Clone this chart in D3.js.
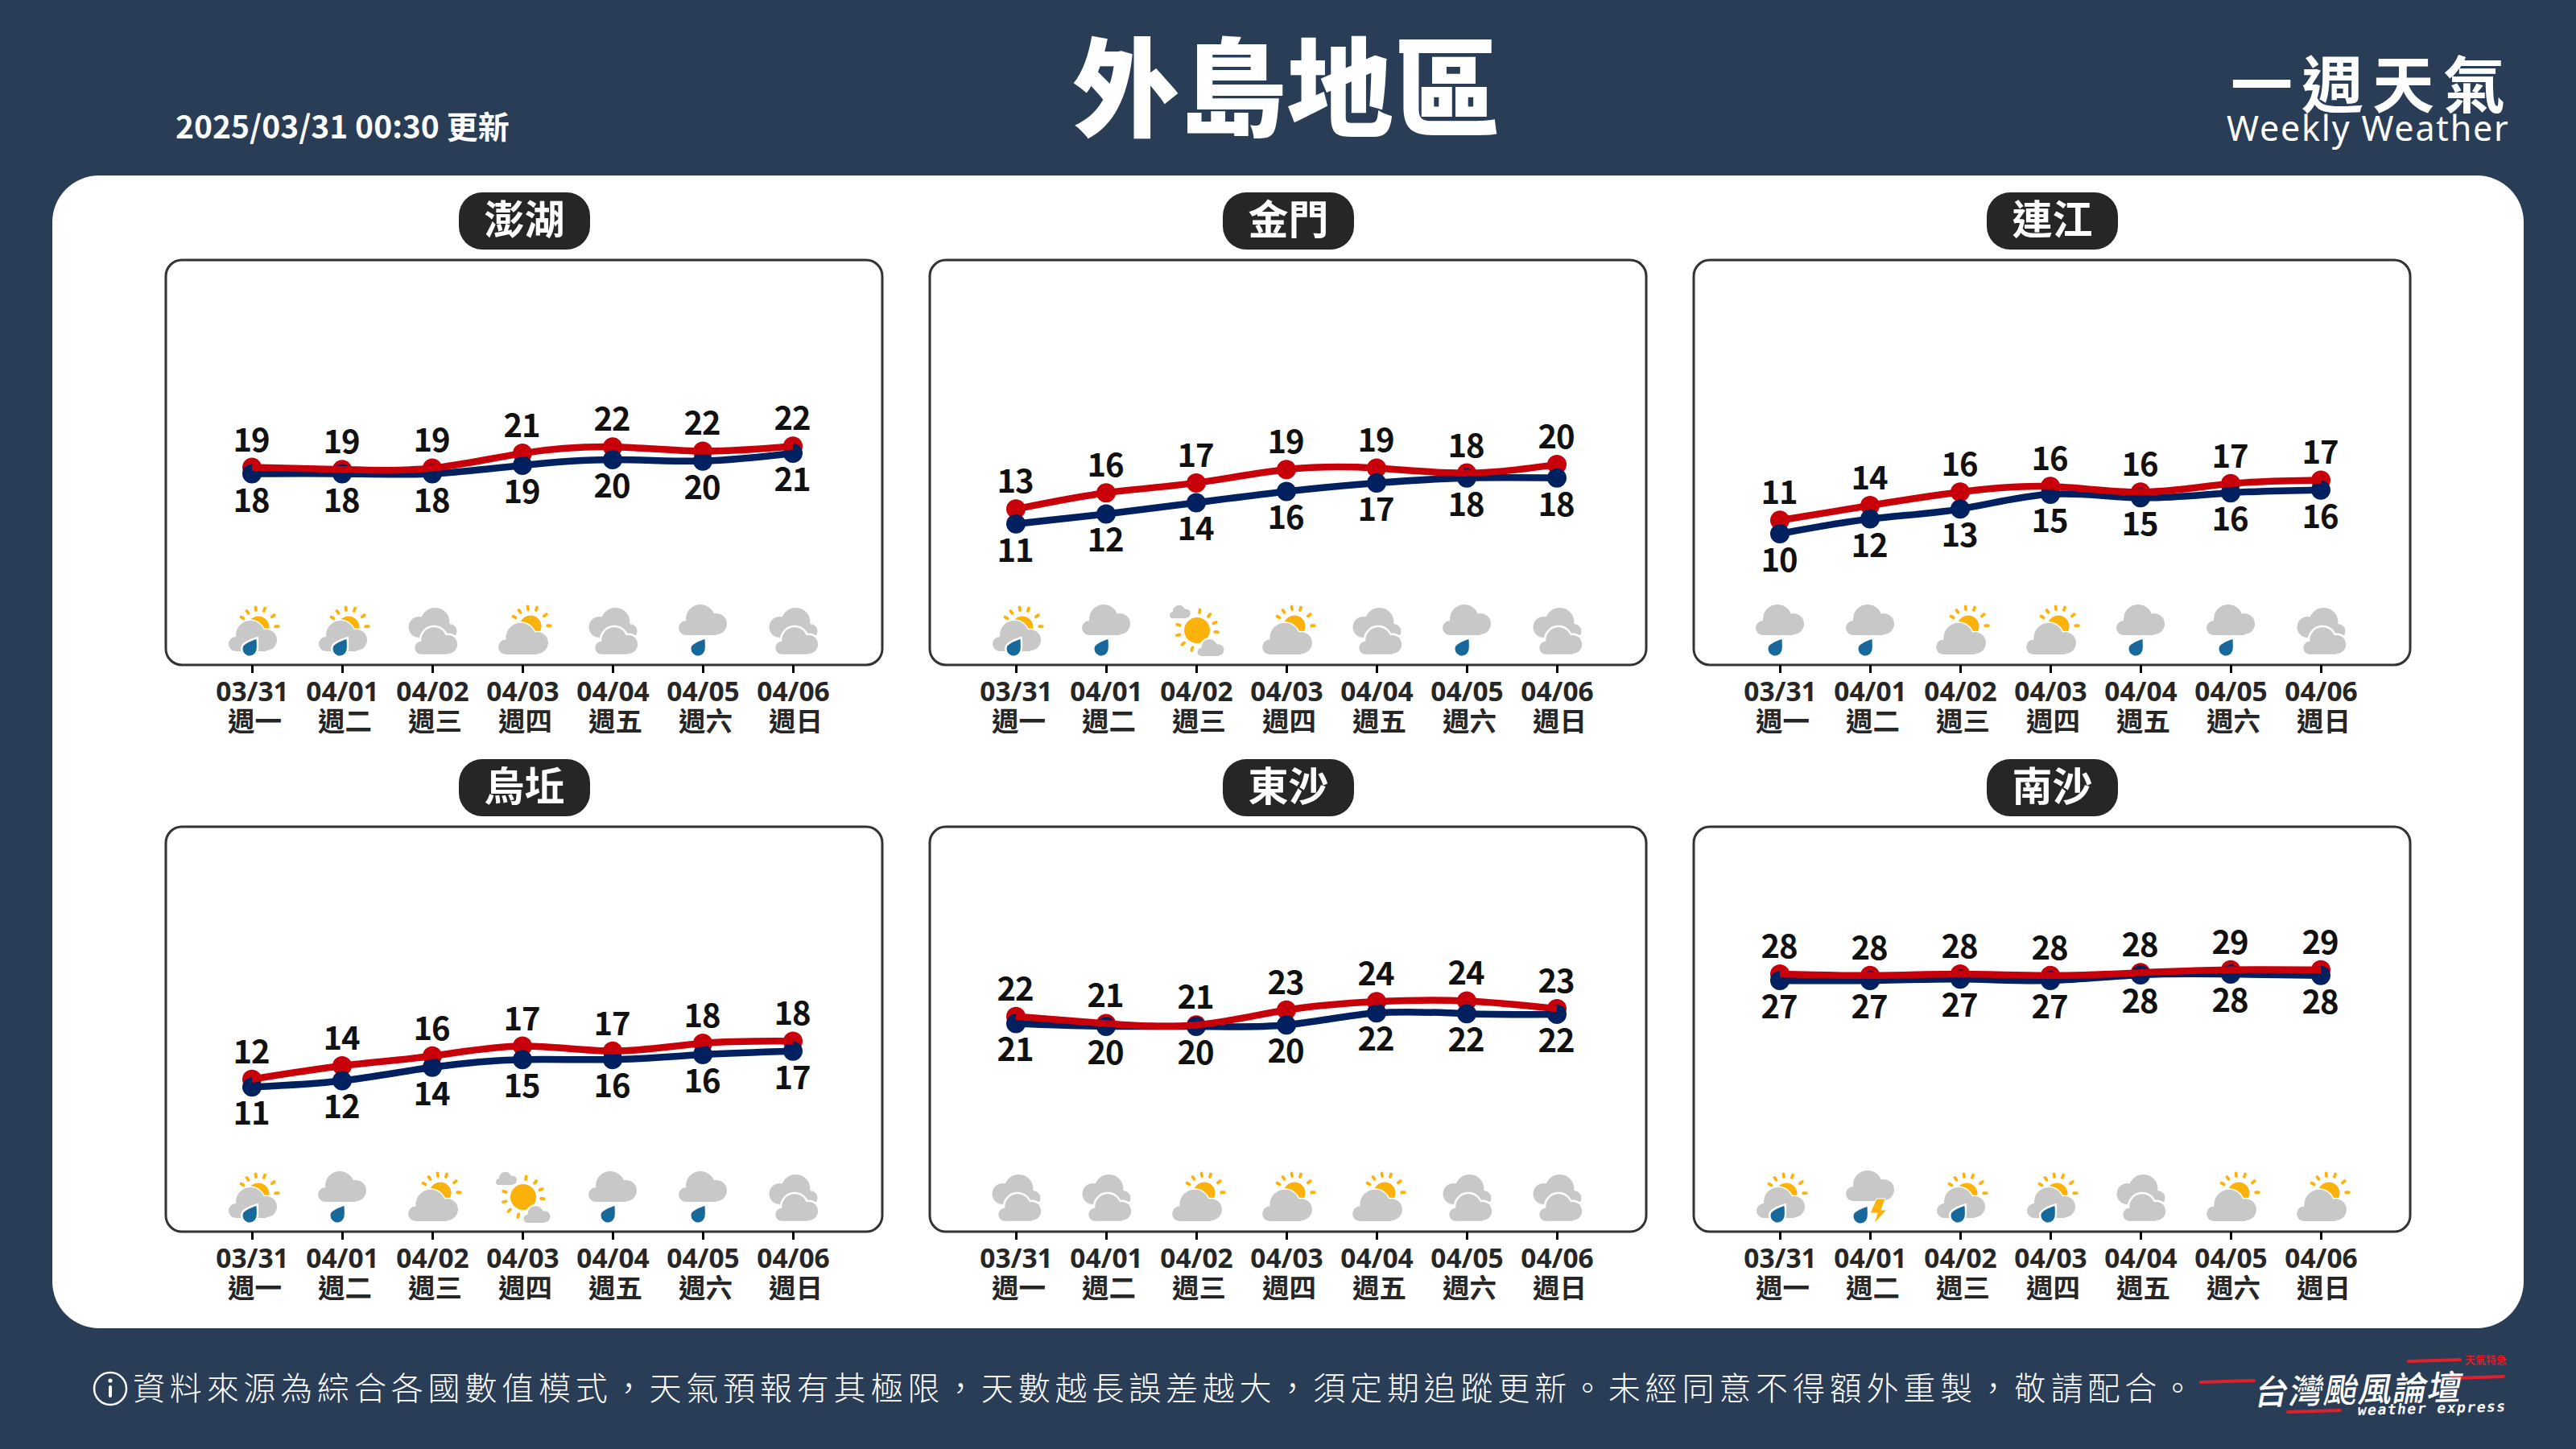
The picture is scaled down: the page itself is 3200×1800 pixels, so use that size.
<!DOCTYPE html>
<html><head><meta charset="utf-8">
<script src="https://cdn.jsdelivr.net/npm/d3@7"></script>
<style>html,body{margin:0;padding:0;background:#2a3d57}svg{display:block}text{font-family:"Noto Sans CJK TC","Noto Sans",sans-serif}</style>
</head><body><svg id="c" width="3200" height="1800" viewBox="0 0 3200 1800"></svg>
<script>
const dates=["03/31","04/01","04/02","04/03","04/04","04/05","04/06"];
const weekdays=["週一","週二","週三","週四","週五","週六","週日"];
const stations=["澎湖","金門","連江","烏坵","東沙","南沙"];
// smoothed series
const highs=[
 [19.4,19.1,19.3,21.4,22.3,21.7,22.4],
 [13.5,15.8,17.2,19.1,19.3,18.6,19.8],
 [11.9,14.0,15.9,16.7,15.9,17.1,17.6],
 [13.0,14.9,16.3,17.7,17.0,18.1,18.4],
 [21.9,20.9,20.7,22.8,24.0,24.1,23.0],
 [27.9,27.7,27.9,27.7,28.1,28.5,28.5]];
const lows=[
 [18.5,18.5,18.5,19.7,20.5,20.3,21.4],
 [11.4,12.8,14.4,16.0,17.2,17.9,17.9],
 [10.0,12.1,13.5,15.6,15.1,15.8,16.2],
 [11.9,12.8,14.7,15.8,15.8,16.5,17.0],
 [20.9,20.5,20.5,20.7,22.4,22.3,22.2],
 [27.0,27.0,27.2,27.0,27.8,27.9,27.7]];
// printed labels
const highLabels=[[19,19,19,21,22,22,22],[13,16,17,19,19,18,20],[11,14,16,16,16,17,17],[12,14,16,17,17,18,18],[22,21,21,23,24,24,23],[28,28,28,28,28,29,29]];
const lowLabels=[[18,18,18,19,20,20,21],[11,12,14,16,17,18,18],[10,12,13,15,15,16,16],[11,12,14,15,16,16,17],[21,20,20,20,22,22,22],[27,27,27,27,28,28,28]];
// PR partly cloudy+rain, R cloud+rain, O overcast, P partly cloudy, S mostly sunny, T thunder
const icons=[["PR","PR","O","P","O","R","O"],["PR","R","S","P","O","R","O"],["R","R","P","P","R","R","O"],["PR","R","P","S","R","R","O"],["O","O","P","P","P","O","O"],["PR","T","PR","PR","O","P","P"]];
const noteText="資料來源為綜合各國數值模式，天氣預報有其極限，天數越長誤差越大，須定期追蹤更新。未經同意不得額外重製，敬請配合。";

const BG="#2a3d57",RED="#c8000a",NAVY="#002060",GREY="#c8c8c8",SUN="#fbb30b",DROP="#17699c",DARK="#262626";
const svg=d3.select("#c");
svg.append("rect").attr("width",3200).attr("height",1800).attr("fill",BG);
svg.append("rect").attr("x",65).attr("y",218).attr("width",3070).attr("height",1432).attr("rx",58).attr("fill","#fff");

const txt=(s,x,y,fs,fw,o={})=>{const t=svg.append("text").attr("x",x).attr("y",y).attr("font-size",fs).attr("font-weight",fw).attr("fill",o.fill||"#fff").attr("text-anchor",o.anchor||"start").text(s);
 if(o.ls)t.attr("letter-spacing",o.ls); if(o.tf)t.attr("transform",o.tf); if(o.family)t.style("font-family",o.family); return t;};
txt("外島地區",1598,159,133,900,{anchor:"middle"});
txt("2025/03/31 00:30 更新",218,172,39,700);
txt("一週天氣",2771,134,77,700,{ls:11});
txt("Weekly Weather",2766,175,43,400,{ls:1.8,family:"'Noto Sans'"});
svg.append("circle").attr("cx",137).attr("cy",1725).attr("r",20).attr("fill","none").attr("stroke","#fff").attr("stroke-width",2.5);
svg.append("circle").attr("cx",137).attr("cy",1715).attr("r",2.6).attr("fill","#fff");
svg.append("rect").attr("x",135).attr("y",1721).attr("width",4).attr("height",15).attr("rx",2).attr("fill","#fff");
txt(noteText,165,1739,40,200,{ls:5.82});
// logo
[[2734,1717,2800,1715],[2842,1754,2907,1752],[2992,1691,3056,1689],[3045,1712,3110,1710]].forEach(l=>svg.append("line").attr("x1",l[0]).attr("y1",l[1]).attr("x2",l[2]).attr("y2",l[3]).attr("stroke","#e0202a").attr("stroke-width",4).attr("stroke-linecap","round"));
txt("台灣颱風論壇",0,0,42,500,{ls:1,tf:"translate(2799,1745) rotate(-1.5) skewX(-12)"});
txt("weather express",0,0,18,700,{ls:1.5,tf:"translate(2928,1758) rotate(-1.5) skewX(-10)",family:"'DejaVu Sans Mono'"});
txt("天氣特急",3062,1694,13,500,{fill:"#e0202a"});

// icon glyphs
function cloud(g,cx,by,s,halo,flip){
 const f=flip?-1:1;
 const parts=[[-21,-9,9],[-3,-20,18],[17,-14,13]];
 const draw=(fill,sw)=>{
  parts.forEach(p=>g.append("circle").attr("cx",cx+f*p[0]*s).attr("cy",by+p[1]*s).attr("r",p[2]*s).attr("fill",fill).attr("stroke",fill).attr("stroke-width",sw));
  g.append("rect").attr("x",cx+Math.min(f*-21,f*17)*s).attr("y",by-14*s).attr("width",38*s).attr("height",14*s).attr("fill",fill).attr("stroke",fill).attr("stroke-width",sw);
 };
 if(halo)draw("#fff",halo);
 draw(GREY,0);
}
function sun(g,cx,cy,r,ray,angles){
 g.append("circle").attr("cx",cx).attr("cy",cy).attr("r",r).attr("fill",SUN);
 angles.forEach(a=>{const t=a*Math.PI/180;
  g.append("line").attr("x1",cx+Math.cos(t)*(ray-1.8)).attr("y1",cy+Math.sin(t)*(ray-1.8)).attr("x2",cx+Math.cos(t)*(ray+1.8)).attr("y2",cy+Math.sin(t)*(ray+1.8)).attr("stroke",SUN).attr("stroke-width",3.8).attr("stroke-linecap","round");});
}
const partRays=[-98,-126,-71,-150,-37,-2],fullRays=[-82,-51,-23,5,-164,166,136,105];
function drop(g,cx,cy,halo){
 const d=`M${cx+8.5},${cy-12} C${cx+9},${cy-4} ${cx+9},${cy} ${cx+8},${cy+3} A8.5,8.5 0 1 1 ${cx-8},${cy-3} C${cx-5},${cy-7} ${cx+2},${cy-10} ${cx+8.5},${cy-12}Z`;
 if(halo)g.append("path").attr("d",d).attr("fill","#fff").attr("stroke","#fff").attr("stroke-width",halo);
 g.append("path").attr("d",d).attr("fill",DROP);
}
const glyph={
 PR(g){sun(g,8,-47,13.5,23,partRays);cloud(g,1,-17,1,3);drop(g,-3,-20,5);},
 P(g){sun(g,10,-48,13.5,23,partRays);cloud(g,1,-13,1.03,3);},
 O(g){cloud(g,0.5,-33,1,0,true);cloud(g,4.7,-13.3,.88,5);},
 R(g){cloud(g,0,-37,1,0);drop(g,-6,-20,0);},
 T(g){cloud(g,0,-38,1,0);drop(g,-12,-19,0);
   g.append("path").attr("d","M8,-41 L19,-41 L14,-27 L21,-27 L5,-10 L9,-23 L0,-23 Z").attr("fill",SUN).attr("stroke","#fff").attr("stroke-width",1);},
 S(g){sun(g,1,-43,16,24,fullRays);cloud(g,-20,-58,.43,0);cloud(g,18,-11,.55,4);}
};

const frameW=890,frameH=503,colStep=949,rowStep=704;
const left=206,top0=323;
stations.forEach((name,i)=>{
 const col=i%3,row=Math.floor(i/3);
 const g=svg.append("g").attr("transform",`translate(${left+col*colStep},${top0+row*rowStep})`);
 g.append("rect").attr("width",frameW).attr("height",frameH).attr("rx",20).attr("fill","#fff").attr("stroke","#333").attr("stroke-width",3);
 // badge
 const w=163,h=71;
 g.append("rect").attr("x",frameW/2-w/2+0.5).attr("y",-84).attr("width",w).attr("height",h).attr("rx",29).attr("fill",DARK);
 g.append("text").attr("x",frameW/2+0.5).attr("y",-32).attr("text-anchor","middle").attr("font-size",50).attr("font-weight",700).attr("fill","#fff").text(name);

 const x=d3.scalePoint().domain(dates).range([107,779]);
 const y=d3.scaleLinear().domain([0,40]).range([427.7,77]);
 const ax=g.append("g").attr("transform",`translate(0,${frameH})`).call(d3.axisBottom(x).tickSize(10).tickPadding(4));
 ax.select(".domain").remove();
 ax.selectAll(".tick line").attr("stroke","#000").attr("stroke-width",3);
 ax.selectAll(".tick text").each(function(d,k){
  const t=d3.select(this).text(null).attr("fill",DARK).attr("font-size",33.5).attr("font-weight",700).attr("y",0).attr("dy",null);
  t.append("tspan").attr("x",0).attr("y",45).style("font-family","'Noto Sans'").text(d);
  t.append("tspan").attr("x",3).attr("y",82).text(weekdays[k]);
 });
 const line=d3.line().x((d,k)=>x(dates[k])).y(d=>y(d)).curve(d3.curveNatural);
 const dots=(arr,col)=>g.append("g").selectAll("circle").data(arr).join("circle").attr("cx",(d,k)=>x(dates[k])).attr("cy",d=>y(d)).attr("r",12).attr("fill",col);
 dots(highs[i],RED);dots(lows[i],NAVY);
 g.append("path").attr("d",line(lows[i])).attr("fill","none").attr("stroke",NAVY).attr("stroke-width",8.5);
 g.append("path").attr("d",line(highs[i])).attr("fill","none").attr("stroke",RED).attr("stroke-width",8.5);
 const labs=(arr,vals,dy)=>g.append("g").selectAll("text").data(arr).join("text").attr("x",(d,k)=>x(dates[k])-1).attr("y",(d,k)=>y(vals[k])+dy).attr("text-anchor","middle").attr("font-size",40).attr("font-weight",700).attr("letter-spacing",-1).attr("fill","#111").text(d=>d);
 labs(highLabels[i],highs[i],-20);
 labs(lowLabels[i],lows[i],47);
 icons[i].forEach((k,j)=>{const ig=g.append("g").attr("transform",`translate(${x(dates[j])},${frameH})`);glyph[k](ig);});
});
</script></body></html>
